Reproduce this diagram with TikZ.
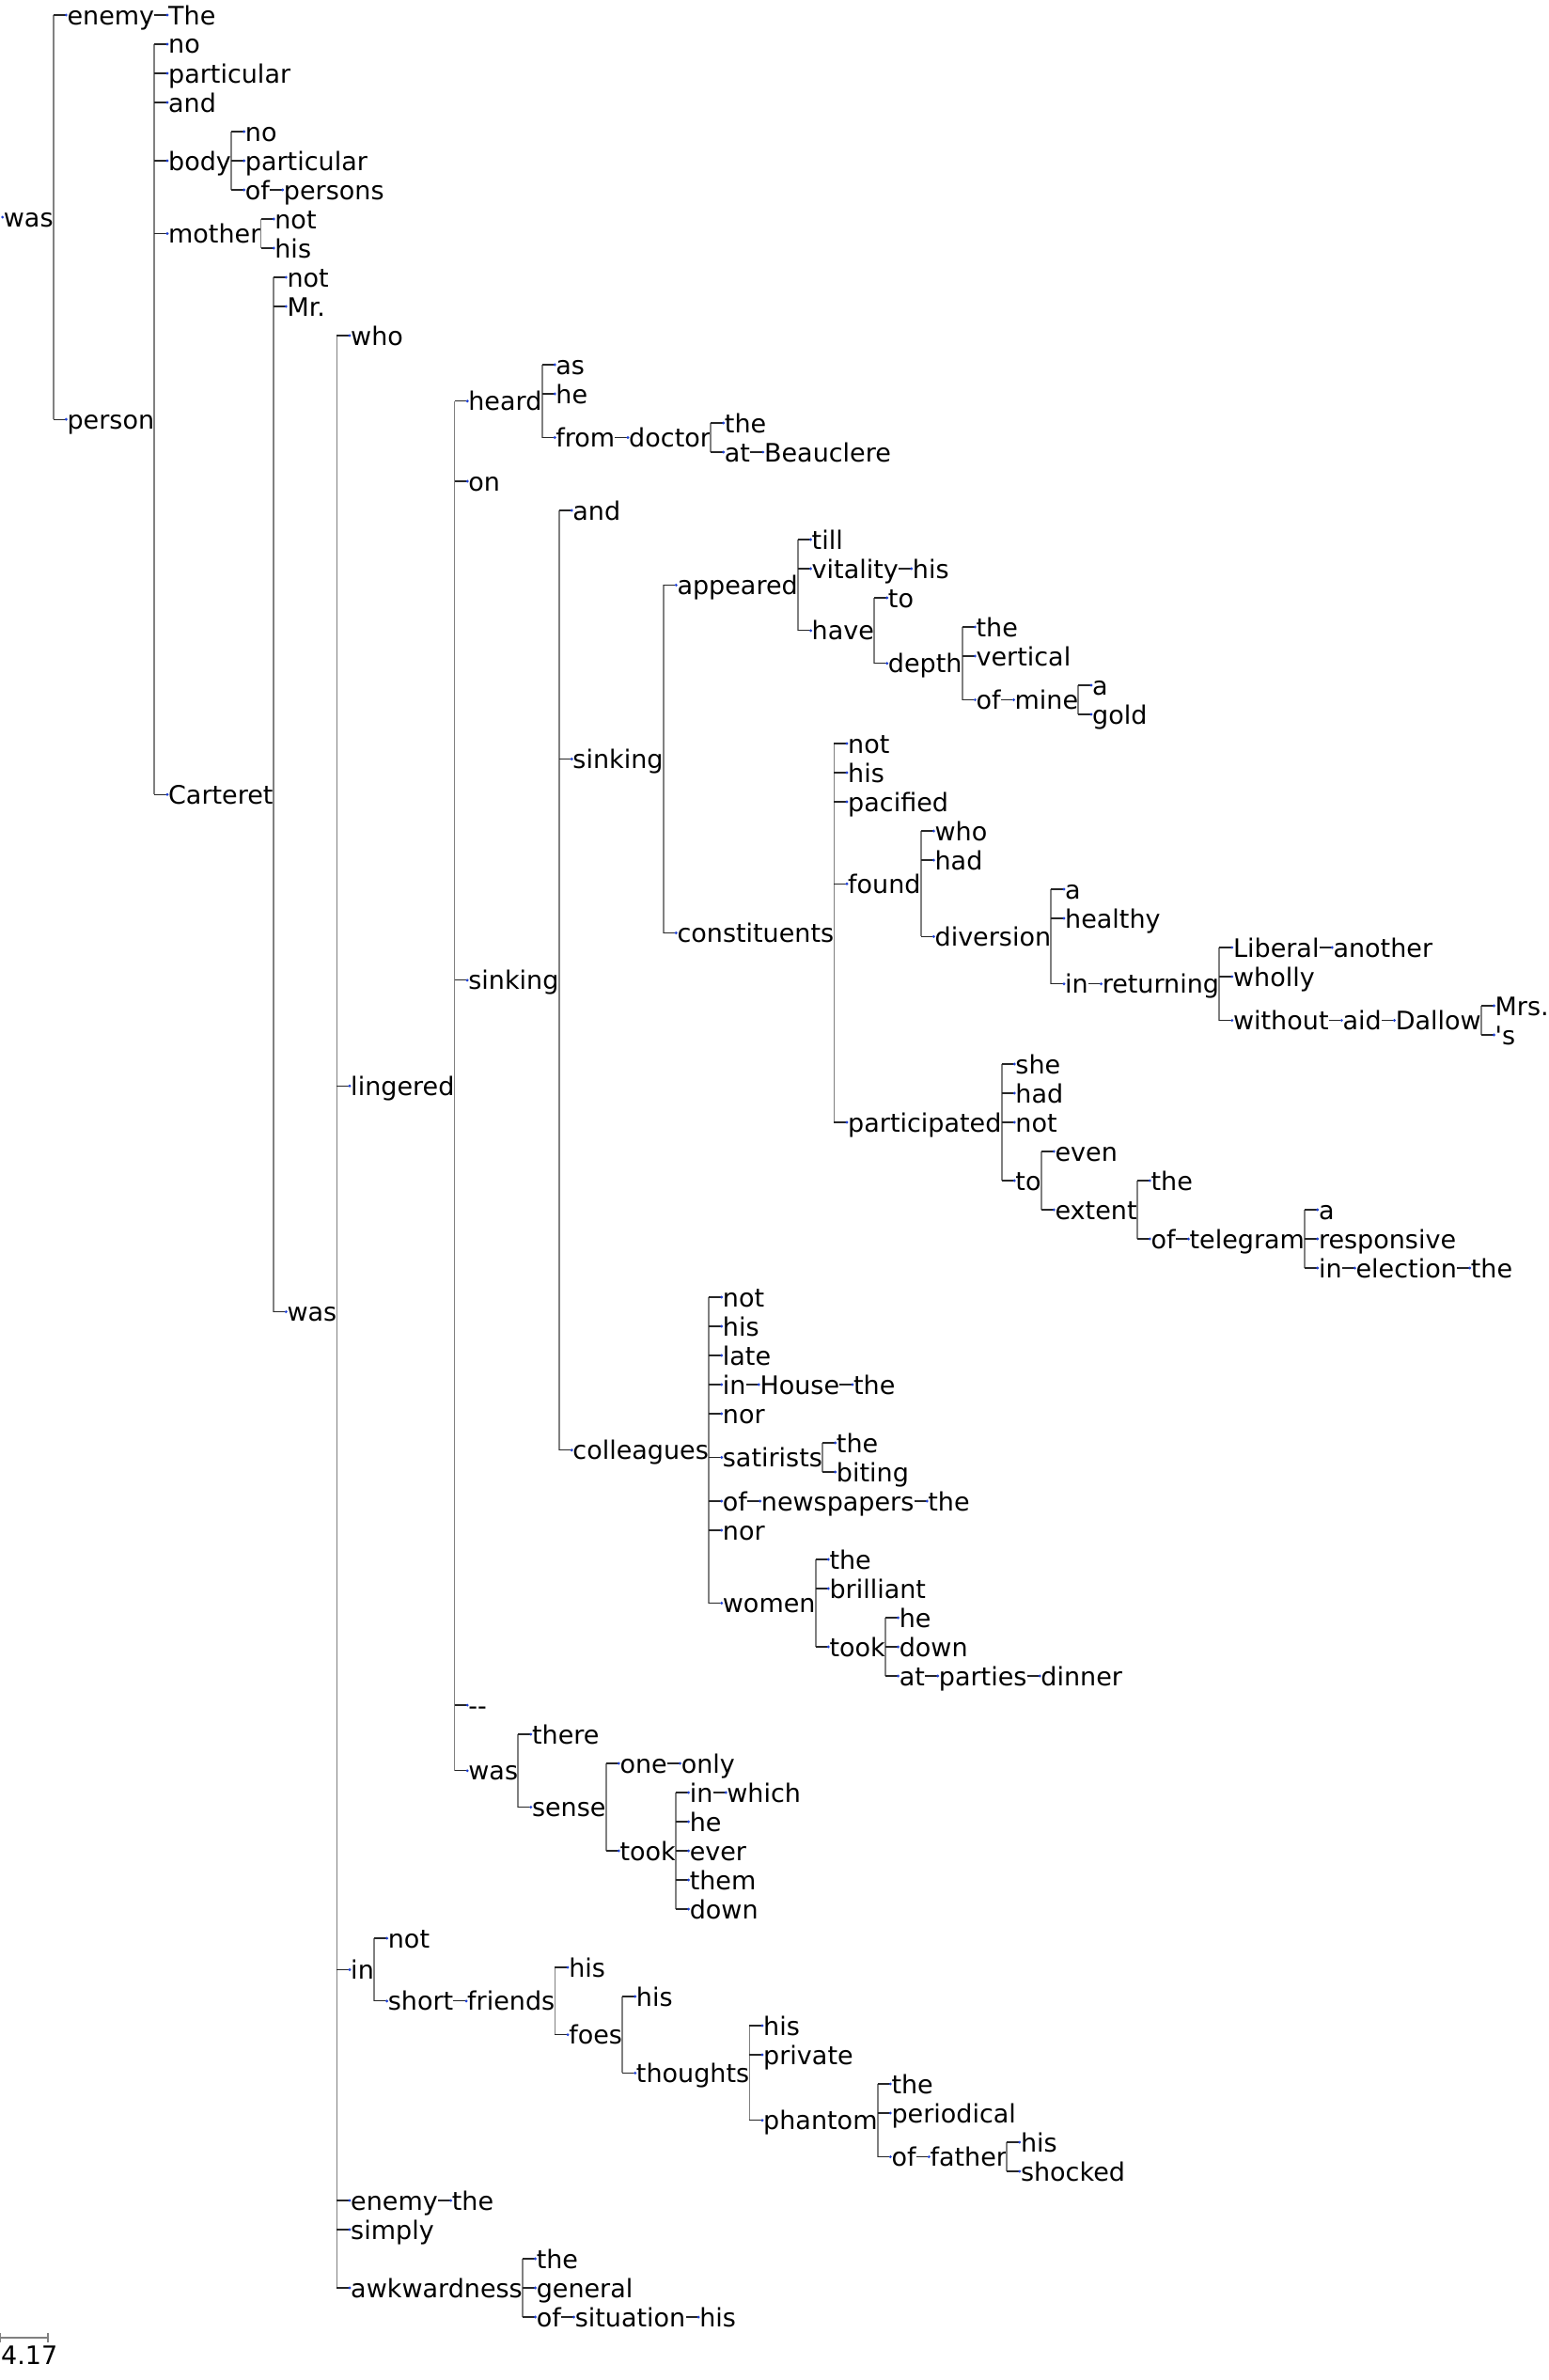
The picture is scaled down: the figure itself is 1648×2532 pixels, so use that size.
\documentclass[tikz,border=0pt]{standalone}
\usepackage{fontspec}
\newfontfamily\tokfont{DejaVu Sans}
\definecolor{dotblue}{HTML}{1E40D8}

\begin{document}
\begin{tikzpicture}[x=1pt,y=-31pt,
    tok/.style={anchor=west,inner sep=0pt,text height=20pt,text depth=0pt,font=\tokfont\fontsize{27}{27}\selectfont},
    kid/.style={tok,xshift=14.6pt},
    vrule/.style={draw=gray,line width=1.8pt},
    stub/.style={draw=black!85,line width=1.2pt},
    dot/.style={fill=dotblue}]
        \useasboundingbox (0pt,16pt) rectangle (1648pt,-2516pt);
        \node[tok] (root) at (3.7,6.9375) {was};
        \node[kid] (enemy) at (root.east |- 0,0) {enemy};
        \node[kid] (The) at (enemy.east |- 0,0) {The};
        \node[kid] (person) at (root.east |- 0,13.875) {person};
        \node[kid] (noA) at (person.east |- 0,1) {no};
        \node[kid] (partA) at (person.east |- 0,2) {particular};
        \node[kid] (andA) at (person.east |- 0,3) {and};
        \node[kid] (body) at (person.east |- 0,5) {body};
        \node[kid] (noB) at (body.east |- 0,4) {no};
        \node[kid] (partB) at (body.east |- 0,5) {particular};
        \node[kid] (ofA) at (body.east |- 0,6) {of};
        \node[kid] (persons) at (ofA.east |- 0,6) {persons};
        \node[kid] (mother) at (person.east |- 0,7.5) {mother};
        \node[kid] (notA) at (mother.east |- 0,7) {not};
        \node[kid] (hisA) at (mother.east |- 0,8) {his};
        \node[kid] (Carteret) at (person.east |- 0,26.75) {Carteret};
        \node[kid] (notB) at (Carteret.east |- 0,9) {not};
        \node[kid] (Mr) at (Carteret.east |- 0,10) {Mr.};
        \node[kid] (wasB) at (Carteret.east |- 0,44.5) {was};
        \node[kid] (who) at (wasB.east |- 0,11) {who};
        \node[kid] (lingered) at (wasB.east |- 0,36.75) {lingered};
        \node[kid] (heard) at (lingered.east |- 0,13.25) {heard};
        \node[kid] (as) at (heard.east |- 0,12) {as};
        \node[kid] (heA) at (heard.east |- 0,13) {he};
        \node[kid] (from) at (heard.east |- 0,14.5) {from};
        \node[kid] (doctor) at (from.east |- 0,14.5) {doctor};
        \node[kid] (theA) at (doctor.east |- 0,14) {the};
        \node[kid] (atA) at (doctor.east |- 0,15) {at};
        \node[kid] (Beauclere) at (atA.east |- 0,15) {Beauclere};
        \node[kid] (on) at (lingered.east |- 0,16) {on};
        \node[kid] (sinkA) at (lingered.east |- 0,33.125) {sinking};
        \node[kid] (andB) at (sinkA.east |- 0,17) {and};
        \node[kid] (sinkB) at (sinkA.east |- 0,25.53125) {sinking};
        \node[kid] (appeared) at (sinkB.east |- 0,19.5625) {appeared};
        \node[kid] (till) at (appeared.east |- 0,18) {till};
        \node[kid] (vitality) at (appeared.east |- 0,19) {vitality};
        \node[kid] (hisB) at (vitality.east |- 0,19) {his};
        \node[kid] (have) at (appeared.east |- 0,21.125) {have};
        \node[kid] (toA) at (have.east |- 0,20) {to};
        \node[kid] (depth) at (have.east |- 0,22.25) {depth};
        \node[kid] (theB) at (depth.east |- 0,21) {the};
        \node[kid] (vertical) at (depth.east |- 0,22) {vertical};
        \node[kid] (ofB) at (depth.east |- 0,23.5) {of};
        \node[kid] (mine) at (ofB.east |- 0,23.5) {mine};
        \node[kid] (aA) at (mine.east |- 0,23) {a};
        \node[kid] (gold) at (mine.east |- 0,24) {gold};
        \node[kid] (constituents) at (sinkB.east |- 0,31.5) {constituents};
        \node[kid] (notC) at (constituents.east |- 0,25) {not};
        \node[kid] (hisC) at (constituents.east |- 0,26) {his};
        \node[kid] (pacified) at (constituents.east |- 0,27) {pacified};
        \node[kid] (found) at (constituents.east |- 0,29.8125) {found};
        \node[kid] (whoB) at (found.east |- 0,28) {who};
        \node[kid] (hadA) at (found.east |- 0,29) {had};
        \node[kid] (diversion) at (found.east |- 0,31.625) {diversion};
        \node[kid] (aB) at (diversion.east |- 0,30) {a};
        \node[kid] (healthy) at (diversion.east |- 0,31) {healthy};
        \node[kid] (inA) at (diversion.east |- 0,33.25) {in};
        \node[kid] (returning) at (inA.east |- 0,33.25) {returning};
        \node[kid] (Liberal) at (returning.east |- 0,32) {Liberal};
        \node[kid] (another) at (Liberal.east |- 0,32) {another};
        \node[kid] (wholly) at (returning.east |- 0,33) {wholly};
        \node[kid] (without) at (returning.east |- 0,34.5) {without};
        \node[kid] (aid) at (without.east |- 0,34.5) {aid};
        \node[kid] (Dallow) at (aid.east |- 0,34.5) {Dallow};
        \node[kid] (Mrs) at (Dallow.east |- 0,34) {Mrs.};
        \node[kid] (poss) at (Dallow.east |- 0,35) {'s};
        \node[kid] (participated) at (constituents.east |- 0,38) {participated};
        \node[kid] (she) at (participated.east |- 0,36) {she};
        \node[kid] (hadB) at (participated.east |- 0,37) {had};
        \node[kid] (notD) at (participated.east |- 0,38) {not};
        \node[kid] (toB) at (participated.east |- 0,40) {to};
        \node[kid] (even) at (toB.east |- 0,39) {even};
        \node[kid] (extent) at (toB.east |- 0,41) {extent};
        \node[kid] (theC) at (extent.east |- 0,40) {the};
        \node[kid] (ofC) at (extent.east |- 0,42) {of};
        \node[kid] (telegram) at (ofC.east |- 0,42) {telegram};
        \node[kid] (aC) at (telegram.east |- 0,41) {a};
        \node[kid] (responsive) at (telegram.east |- 0,42) {responsive};
        \node[kid] (inB) at (telegram.east |- 0,43) {in};
        \node[kid] (election) at (inB.east |- 0,43) {election};
        \node[kid] (theD) at (election.east |- 0,43) {the};
        \node[kid] (colleagues) at (sinkA.east |- 0,49.25) {colleagues};
        \node[kid] (notE) at (colleagues.east |- 0,44) {not};
        \node[kid] (hisD) at (colleagues.east |- 0,45) {his};
        \node[kid] (late) at (colleagues.east |- 0,46) {late};
        \node[kid] (inC) at (colleagues.east |- 0,47) {in};
        \node[kid] (House) at (inC.east |- 0,47) {House};
        \node[kid] (theE) at (House.east |- 0,47) {the};
        \node[kid] (norA) at (colleagues.east |- 0,48) {nor};
        \node[kid] (satirists) at (colleagues.east |- 0,49.5) {satirists};
        \node[kid] (theF) at (satirists.east |- 0,49) {the};
        \node[kid] (biting) at (satirists.east |- 0,50) {biting};
        \node[kid] (ofD) at (colleagues.east |- 0,51) {of};
        \node[kid] (newspapers) at (ofD.east |- 0,51) {newspapers};
        \node[kid] (theG) at (newspapers.east |- 0,51) {the};
        \node[kid] (norB) at (colleagues.east |- 0,52) {nor};
        \node[kid] (women) at (colleagues.east |- 0,54.5) {women};
        \node[kid] (theH) at (women.east |- 0,53) {the};
        \node[kid] (brilliant) at (women.east |- 0,54) {brilliant};
        \node[kid] (tookA) at (women.east |- 0,56) {took};
        \node[kid] (heB) at (tookA.east |- 0,55) {he};
        \node[kid] (downA) at (tookA.east |- 0,56) {down};
        \node[kid] (atB) at (tookA.east |- 0,57) {at};
        \node[kid] (parties) at (atB.east |- 0,57) {parties};
        \node[kid] (dinner) at (parties.east |- 0,57) {dinner};
        \node[kid] (dash) at (lingered.east |- 0,58) {-\kern0pt-};
        \node[kid] (wasC) at (lingered.east |- 0,60.25) {was};
        \node[kid] (there) at (wasC.east |- 0,59) {there};
        \node[kid] (sense) at (wasC.east |- 0,61.5) {sense};
        \node[kid] (one) at (sense.east |- 0,60) {one};
        \node[kid] (only) at (one.east |- 0,60) {only};
        \node[kid] (tookB) at (sense.east |- 0,63) {took};
        \node[kid] (inD) at (tookB.east |- 0,61) {in};
        \node[kid] (which) at (inD.east |- 0,61) {which};
        \node[kid] (heC) at (tookB.east |- 0,62) {he};
        \node[kid] (ever) at (tookB.east |- 0,63) {ever};
        \node[kid] (them) at (tookB.east |- 0,64) {them};
        \node[kid] (downB) at (tookB.east |- 0,65) {down};
        \node[kid] (inE) at (wasB.east |- 0,67.078125) {in};
        \node[kid] (notF) at (inE.east |- 0,66) {not};
        \node[kid] (short) at (inE.east |- 0,68.15625) {short};
        \node[kid] (friends) at (short.east |- 0,68.15625) {friends};
        \node[kid] (hisE) at (friends.east |- 0,67) {his};
        \node[kid] (foes) at (friends.east |- 0,69.3125) {foes};
        \node[kid] (hisF) at (foes.east |- 0,68) {his};
        \node[kid] (thoughts) at (foes.east |- 0,70.625) {thoughts};
        \node[kid] (hisG) at (thoughts.east |- 0,69) {his};
        \node[kid] (private) at (thoughts.east |- 0,70) {private};
        \node[kid] (phantom) at (thoughts.east |- 0,72.25) {phantom};
        \node[kid] (theI) at (phantom.east |- 0,71) {the};
        \node[kid] (periodical) at (phantom.east |- 0,72) {periodical};
        \node[kid] (ofE) at (phantom.east |- 0,73.5) {of};
        \node[kid] (father) at (ofE.east |- 0,73.5) {father};
        \node[kid] (hisH) at (father.east |- 0,73) {his};
        \node[kid] (shocked) at (father.east |- 0,74) {shocked};
        \node[kid] (enemyB) at (wasB.east |- 0,75) {enemy};
        \node[kid] (theJ) at (enemyB.east |- 0,75) {the};
        \node[kid] (simply) at (wasB.east |- 0,76) {simply};
        \node[kid] (awkwardness) at (wasB.east |- 0,78) {awkwardness};
        \node[kid] (theK) at (awkwardness.east |- 0,77) {the};
        \node[kid] (general) at (awkwardness.east |- 0,78) {general};
        \node[kid] (ofF) at (awkwardness.east |- 0,79) {of};
        \node[kid] (situation) at (ofF.east |- 0,79) {situation};
        \node[kid] (hisI) at (situation.east |- 0,79) {his};
        \foreach \p/\a/\b in {root/enemy/person,person/noA/Carteret,body/noB/ofA,mother/notA/hisA,
            Carteret/notB/wasB,wasB/who/awkwardness,lingered/heard/wasC,heard/as/from,doctor/theA/atA,
            sinkA/andB/colleagues,sinkB/appeared/constituents,appeared/till/have,have/toA/depth,
            depth/theB/ofB,mine/aA/gold,constituents/notC/participated,found/whoB/diversion,
            diversion/aB/inA,returning/Liberal/without,Dallow/Mrs/poss,participated/she/toB,
            toB/even/extent,extent/theC/ofC,telegram/aC/inB,colleagues/notE/women,satirists/theF/biting,
            women/theH/tookA,tookA/heB/atB,wasC/there/sense,sense/one/tookB,tookB/inD/downB,
            inE/notF/short,friends/hisE/foes,foes/hisF/thoughts,thoughts/hisG/phantom,
            phantom/theI/ofE,father/hisH/shocked,awkwardness/theK/ofF}{
            \draw[vrule] (\p.east |- \a.west) -- (\p.east |- \b.west);
        }
        \foreach \n in {enemy,The,person,noA,partA,andA,body,noB,partB,ofA,persons,mother,notA,hisA,
            Carteret,notB,Mr,wasB,who,lingered,heard,as,heA,from,doctor,theA,atA,Beauclere,on,
            sinkA,andB,sinkB,appeared,till,vitality,hisB,have,toA,depth,theB,vertical,ofB,mine,aA,gold,
            constituents,notC,hisC,pacified,found,whoB,hadA,diversion,aB,healthy,inA,returning,
            Liberal,another,wholly,without,aid,Dallow,Mrs,poss,participated,she,hadB,notD,toB,even,
            extent,theC,ofC,telegram,aC,responsive,inB,election,theD,colleagues,notE,hisD,late,inC,
            House,theE,norA,satirists,theF,biting,ofD,newspapers,theG,norB,women,theH,brilliant,
            tookA,heB,downA,atB,parties,dinner,dash,wasC,there,sense,one,only,tookB,inD,which,heC,
            ever,them,downB,inE,notF,short,friends,hisE,foes,hisF,thoughts,hisG,private,phantom,
            theI,periodical,ofE,father,hisH,shocked,enemyB,theJ,simply,awkwardness,theK,general,
            ofF,situation,hisI}{
            \draw[stub] ([xshift=-14.6pt]\n.west) -- ([xshift=-1pt]\n.west);
            \fill[dot] ([xshift=-1pt]\n.west) circle (1.6pt);
        }
        \fill[dot] ([xshift=-1pt]root.west) circle (1.6pt);
        \coordinate (barL) at (0pt,-2471pt);
        \coordinate (barR) at (51pt,-2471pt);
        \draw[vrule] (barL) -- (barR);
        \draw[vrule] ([yshift=5pt]barL) -- ([yshift=-5pt]barL);
        \draw[vrule] ([yshift=5pt]barR) -- ([yshift=-5pt]barR);
        \node[tok] (scale) at (1pt,-2489pt) {4.17};
    \end{tikzpicture}
\end{document}
